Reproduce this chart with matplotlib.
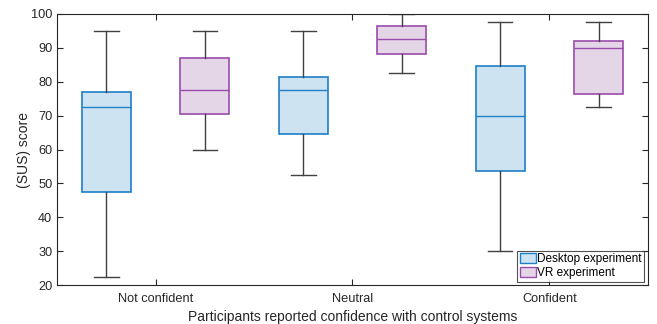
import matplotlib
matplotlib.use("Agg")
import matplotlib.pyplot as plt
from matplotlib.patches import Patch

plt.rcParams["font.family"] = ["Liberation Sans", "DejaVu Sans"]

categories = ["Not confident", "Neutral", "Confident"]

# (low whisker, Q1, median, Q3, high whisker) per category
desktop_low = [22.5, 52.5, 30.0]
desktop_q1 = [47.5, 64.5, 53.8]
desktop_med = [72.5, 77.5, 70.0]
desktop_q3 = [77.0, 81.3, 84.5]
desktop_high = [95.0, 95.0, 97.5]

vr_low = [60.0, 82.5, 72.5]
vr_q1 = [70.5, 88.2, 76.3]
vr_med = [77.5, 92.5, 90.0]
vr_q3 = [87.0, 96.3, 92.0]
vr_high = [95.0, 100.0, 97.5]

desk_edge = "#1f7fc9"
desk_face = "#cde3f1"
vr_edge = "#9a4dab"
vr_face = "#e4d5e7"
whisk = "#404040"


def make_stats(low, q1, med, q3, high):
    return [{"whislo": a, "q1": b, "med": c, "q3": d, "whishi": e, "fliers": []}
            for a, b, c, d, e in zip(low, q1, med, q3, high)]


fig = plt.figure(figsize=(6.57, 3.24), dpi=100)
ax = fig.add_axes([0.087, 0.12, 0.899, 0.837])

pos = range(1, len(categories) + 1)
groups = [
    (make_stats(desktop_low, desktop_q1, desktop_med, desktop_q3, desktop_high), -0.25, desk_edge, desk_face),
    (make_stats(vr_low, vr_q1, vr_med, vr_q3, vr_high), 0.25, vr_edge, vr_face),
]
for stats, off, edge, face in groups:
    ax.bxp(stats, positions=[p + off for p in pos], widths=0.25, patch_artist=True,
           showfliers=False,
           boxprops=dict(facecolor=face, edgecolor=edge, linewidth=1.2),
           medianprops=dict(color=edge, linewidth=1.0),
           whiskerprops=dict(color=whisk, linewidth=1.0),
           capprops=dict(color=whisk, linewidth=1.0), capwidths=0.125)

ax.set_xlim(0.5, 3.5)
ax.set_ylim(20, 100)
ax.set_xticks(list(pos))
ax.set_xticklabels(categories)
ax.set_yticks(range(20, 101, 10))
ax.tick_params(axis="both", direction="in", labelsize=9.2, top=True, right=True,
               length=4, width=0.8, color="#262626", labelcolor="#262626")
ax.tick_params(axis="x", pad=6)
for s in ax.spines.values():
    s.set_color("#262626")
    s.set_linewidth(0.8)
ax.set_ylabel("(SUS) score", fontsize=10, color="#262626", labelpad=0)
ax.set_xlabel("Participants reported confidence with control systems", fontsize=10,
              color="#262626", labelpad=3)

handles = [Patch(facecolor=desk_face, edgecolor=desk_edge, label="Desktop experiment"),
           Patch(facecolor=vr_face, edgecolor=vr_edge, label="VR experiment")]
leg = ax.legend(handles=handles, loc="lower right", fontsize=8.5, frameon=True, fancybox=False,
                edgecolor="#262626", borderpad=0.2, handlelength=1.4, handleheight=0.9,
                handletextpad=0.1, labelspacing=0.15, borderaxespad=0.3)
leg.get_frame().set_linewidth(0.8)

fig.savefig("out.png", dpi=100)
